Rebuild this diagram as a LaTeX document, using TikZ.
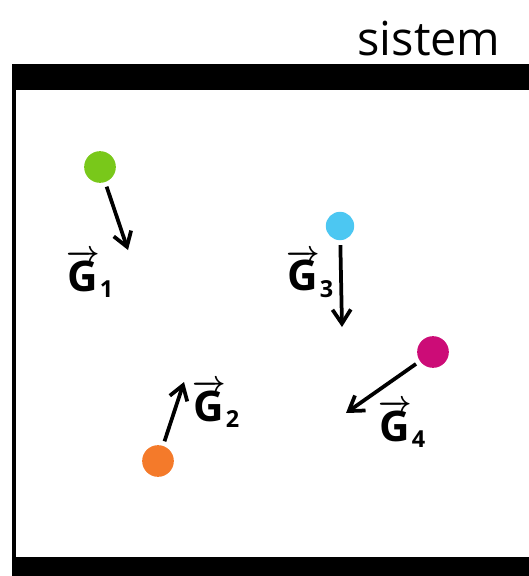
\documentclass[tikz,border=0pt]{standalone}
\usepackage{fontspec}
\setmainfont{Open Sans}
\setsansfont{Open Sans}
\usetikzlibrary{positioning, arrows.meta}
\definecolor{lime}{HTML}{79C81A}
\definecolor{sky}{HTML}{4CC7F2}
\definecolor{berry}{HTML}{CC0C77}
\definecolor{tangerine}{HTML}{F47A2A}
\newcommand{\gvec}[1]{$\boldmath\overrightarrow{\mbox{\bfseries G}}_{\mbox{\bfseries\fontsize{20}{20}\selectfont #1}}$}

\begin{document}
\begin{tikzpicture}[
  x=0.03cm, y=-0.03cm,
  mass/.style={circle, inner sep=0pt, minimum size=0.95cm},
  arr/.style={-{Straight Barb[length=4.2mm, width=5.5mm, line width=3.2pt]}, line width=3.2pt,
              shorten <=4pt},
  lbl/.style={font=\fontsize{36}{36}\selectfont, inner sep=0pt}
]
  \useasboundingbox (0,0) rectangle (529,576);

  % wall of the system
  \fill (12,64) rectangle (529,90);
  \fill (12,90) rectangle (16,557);
  \fill (12,557) rectangle (529,576);
  \node[font=\fontsize{40}{40}\selectfont, anchor=base] (title) at (429,55) {sistem};

  % masses
  \node[mass, fill=lime] (m1) at (100,167) {};
  \node[mass, fill=tangerine] (m2) at (158,461) {};
  \node[mass, fill=sky, minimum size=0.85cm] (m3) at (340,226) {};
  \node[mass, fill=berry] (m4) at (433,352) {};

  % ends of the force vectors
  \coordinate (e1) at (128,250);
  \coordinate (e2) at (184,382);
  \coordinate (e3) at (342,327);
  \coordinate (e4) at (346,413);

  \draw[arr] (m1) -- (e1);
  \draw[arr] (m2) -- (e2);
  \draw[arr] (m3) -- (e3);
  \draw[arr] (m4) -- (e4);

  % labels
  \node[lbl] (g1) at (90,274) {\gvec{1}};
  \node[lbl] (g2) at (216,404) {\gvec{2}};
  \node[lbl] (g3) at (310,274) {\gvec{3}};
  \node[lbl] (g4) at (402,424) {\gvec{4}};
\end{tikzpicture}
\end{document}
